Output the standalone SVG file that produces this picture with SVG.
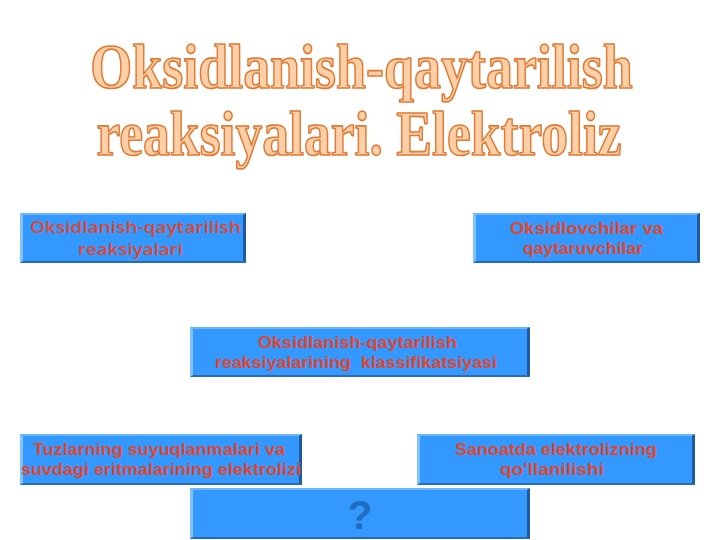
<svg xmlns="http://www.w3.org/2000/svg" width="720" height="540" viewBox="0 0 720 540">
<style>
.title{font-family:"Liberation Serif","Times New Roman",serif;font-weight:bold;font-size:64px;fill:#FCCFA6;stroke:#E07A35;stroke-width:1.7px;stroke-linejoin:round;text-anchor:middle}
.bx{fill:#3399FF}
.hi{fill:#80C2FF}
.hit{fill:#6BB5FF}
.sh{fill:#1F5B9C}
.shb{fill:#2A6CB3}
.lbl{font-family:"Liberation Sans",Arial,sans-serif;font-weight:bold;font-size:16px;fill:#E2462E}
.lbl2{font-family:"Open Sans","Noto Sans",sans-serif;font-weight:600;font-size:15.5px;fill:#E2462E}
.q{font-family:"Liberation Sans",Arial,sans-serif;font-weight:bold;font-size:40px;fill:#1E6CC0}
</style>
<rect width="720" height="540" fill="#FFFFFF"/>
<g id="title">
<text class="title" transform="translate(361.5,88) scale(0.843,1)" x="0" y="0">Oksidlanish-qaytarilish</text>
<text class="title" transform="translate(359,155) scale(0.838,1)" x="0" y="0">reaksiyalari. Elektroliz</text>
</g>
<g id="connectors"/>
<g id="node1">
<rect class="bx" x="20" y="213" width="226" height="50"/>
<polygon class="hit" points="20,213 246,213 243,215 23,215"/>
<polygon class="hi" points="20,213 23,215 23,261 20,263"/>
<polygon class="sh" points="246,213 246,263 243,261 243,215"/>
<polygon class="shb" points="20,263 246,263 243,261 23,261"/>
<text class="lbl2" x="30" y="233" textLength="211" lengthAdjust="spacingAndGlyphs">Oksidlanish-qaytarilish</text>
<text class="lbl2" x="78" y="255" textLength="105" lengthAdjust="spacingAndGlyphs">reaksiyalari</text>
</g>
<g id="node2">
<rect class="bx" x="473" y="213" width="227" height="50"/>
<polygon class="hit" points="473,213 700,213 697,215 476,215"/>
<polygon class="hi" points="473,213 476,215 476,261 473,263"/>
<polygon class="sh" points="700,213 700,263 697,261 697,215"/>
<polygon class="shb" points="473,263 700,263 697,261 476,261"/>
<text class="lbl" x="510" y="234" textLength="153" lengthAdjust="spacingAndGlyphs">Oksidlovchilar va</text>
<text class="lbl" x="523" y="254" textLength="120" lengthAdjust="spacingAndGlyphs">qaytaruvchilar</text>
</g>
<g id="node3">
<rect class="bx" x="190" y="327" width="340" height="50"/>
<polygon class="hit" points="190,327 530,327 527,329 193,329"/>
<polygon class="hi" points="190,327 193,329 193,375 190,377"/>
<polygon class="sh" points="530,327 530,377 527,375 527,329"/>
<polygon class="shb" points="190,377 530,377 527,375 193,375"/>
<text class="lbl" x="258" y="348" textLength="199" lengthAdjust="spacingAndGlyphs">Oksidlanish-qaytarilish</text>
<text class="lbl" x="215" y="368" textLength="282" lengthAdjust="spacingAndGlyphs" xml:space="preserve" style="white-space:pre">reaksiyalarining  klassifikatsiyasi</text>
</g>
<g id="node4">
<rect class="bx" x="20" y="434" width="282" height="51"/>
<polygon class="hit" points="20,434 302,434 299,436 23,436"/>
<polygon class="hi" points="20,434 23,436 23,483 20,485"/>
<polygon class="sh" points="302,434 302,485 299,483 299,436"/>
<polygon class="shb" points="20,485 302,485 299,483 23,483"/>
<text class="lbl" x="33" y="455" textLength="252" lengthAdjust="spacingAndGlyphs">Tuzlarning suyuqlanmalari va</text>
<text class="lbl" x="21" y="475" textLength="280" lengthAdjust="spacingAndGlyphs">suvdagi eritmalarining elektrolizi</text>
</g>
<g id="node5">
<rect class="bx" x="417" y="434" width="278" height="51"/>
<polygon class="hit" points="417,434 695,434 692,436 420,436"/>
<polygon class="hi" points="417,434 420,436 420,483 417,485"/>
<polygon class="sh" points="695,434 695,485 692,483 692,436"/>
<polygon class="shb" points="417,485 695,485 692,483 420,483"/>
<text class="lbl" x="455" y="455" textLength="202" lengthAdjust="spacingAndGlyphs">Sanoatda elektrolizning</text>
<text class="lbl" x="500" y="475" textLength="104" lengthAdjust="spacingAndGlyphs">qo'llanilishi</text>
</g>
<g id="node6">
<rect class="bx" x="190" y="488" width="340" height="51"/>
<polygon class="hit" points="190,488 530,488 527,490 193,490"/>
<polygon class="hi" points="190,488 193,490 193,537 190,539"/>
<polygon class="sh" points="530,488 530,539 527,537 527,490"/>
<polygon class="shb" points="190,539 530,539 527,537 193,537"/>
<text class="q" x="360" y="529" text-anchor="middle">?</text>
</g>
</svg>
